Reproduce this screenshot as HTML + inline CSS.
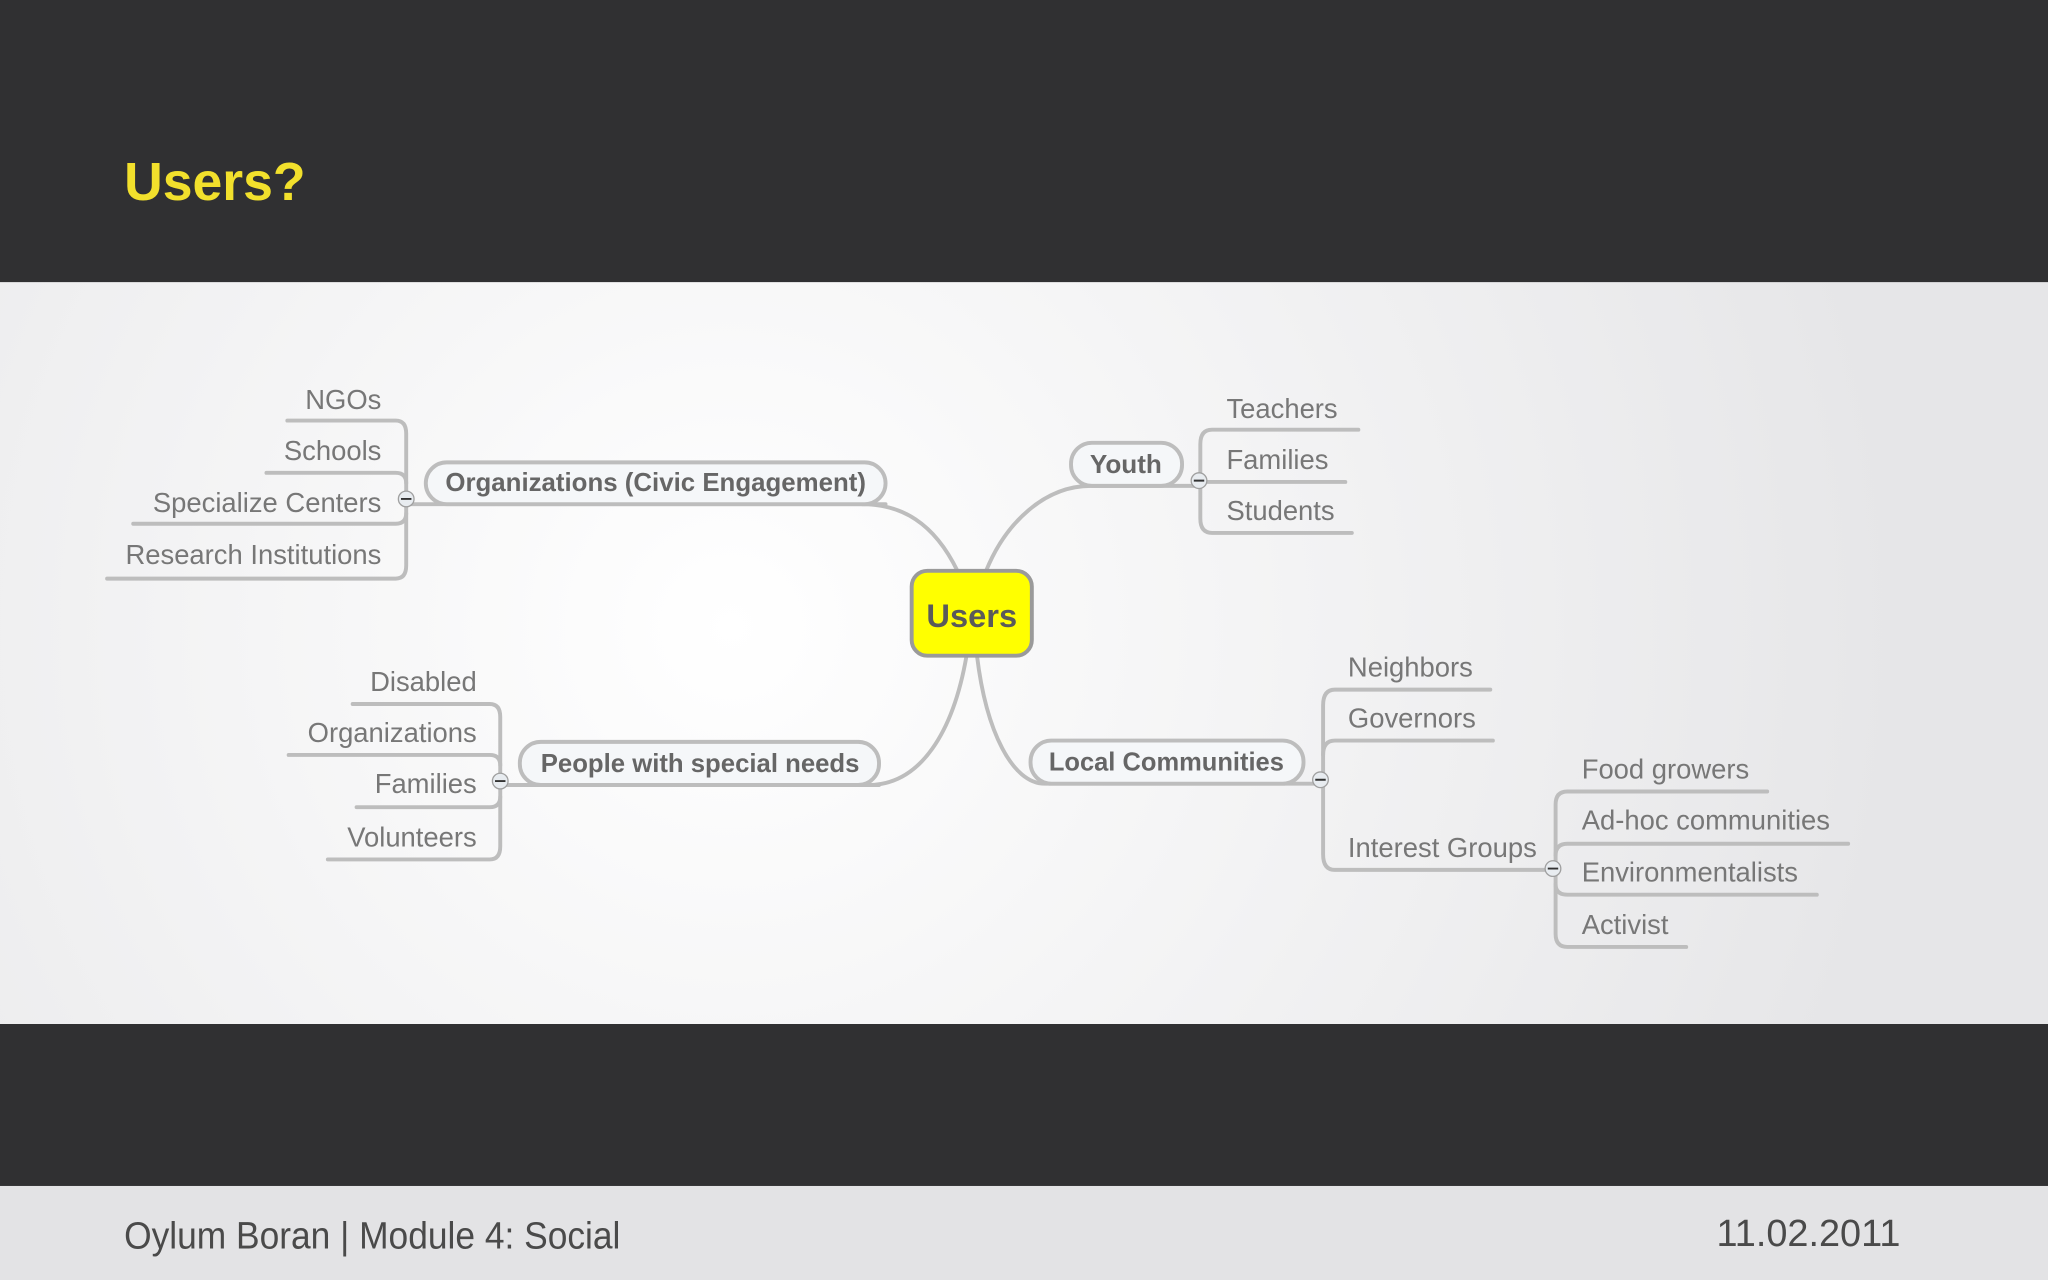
<!DOCTYPE html>
<html><head><meta charset="utf-8"><style>
html,body{margin:0;padding:0;width:2048px;height:1280px;overflow:hidden;background:#303032}
svg{display:block}
</style></head><body>
<svg width="2048" height="1280" viewBox="0 0 1568 980" xmlns="http://www.w3.org/2000/svg" font-family="Liberation Sans, sans-serif">
<defs>
<radialGradient id="bg" cx="560" cy="480" r="900" gradientUnits="userSpaceOnUse">
<stop offset="0" stop-color="#ffffff"/><stop offset="1" stop-color="#e6e6e8"/>
</radialGradient>
</defs>
<rect x="0" y="0" width="1568" height="216" fill="#303032"/>
<text x="95" y="153" font-size="41" font-weight="bold" fill="#f2e02c">Users?</text>
<rect x="0" y="216" width="1568" height="568" fill="url(#bg)"/>
<rect x="0" y="784" width="1568" height="124" fill="#303032"/>
<rect x="0" y="908" width="1568" height="72" fill="#e3e3e5"/>
<text x="95" y="956" font-size="29" fill="#4a4a4a" textLength="380" lengthAdjust="spacingAndGlyphs">Oylum Boran | Module 4: Social</text>
<text x="1455" y="954" font-size="29" fill="#4a4a4a" text-anchor="end">11.02.2011</text>

<g fill="none" stroke="#bdbdbd" stroke-width="3" stroke-linecap="round">
<path d="M733 437 C715 400 690 386 660 386"/>
<path d="M755 437 C770 400 800 372 835 372 L918 372"/>
<path d="M740 502 C730 560 705 601 665 601"/>
<path d="M748 502 C755 560 775 600 800 600 L1011 600"/>
<path d="M678 386 L311 386"/>
<path d="M673 601 L383 601"/>
<path d="M220 322 L303 322 Q311 322 311 332 L311 433 Q311 443 303 443 L82 443"/>
<path d="M204 362 L303 362 Q311 362 311 370"/>
<path d="M102 401 L303 401 Q311 401 311 393"/>
<path d="M1040 329 L928 329 Q919 329 919 340 L919 397 Q919 408 928 408 L1035 408"/>
<path d="M919 369 L1030 369"/>
<path d="M270 539 L375 539 Q383 539 383 549 L383 648 Q383 658 375 658 L251 658"/>
<path d="M221 578 L375 578 Q383 578 383 586"/>
<path d="M273 618 L375 618 Q383 618 383 610"/>
<path d="M1141 528 L1022 528 Q1013 528 1013 540 L1013 654 Q1013 666 1022 666 L1190 666"/>
<path d="M1143 567 L1022 567 Q1013 567 1013 578"/>
<path d="M1353 606 L1200 606 Q1191 606 1191 616 L1191 715 Q1191 725 1200 725 L1291 725"/>
<path d="M1415 646 L1200 646 Q1191 646 1191 655"/>
<path d="M1391 685 L1200 685 Q1191 685 1191 677"/>
</g>

<rect x="698" y="437" width="92" height="65" rx="12" fill="#ffff00" stroke="#9a9a9a" stroke-width="3"/>
<text x="744" y="480" font-size="25" font-weight="bold" fill="#5a5a5a" text-anchor="middle">Users</text>

<g fill="#f5f7f9" stroke="#bdbdbd" stroke-width="3">
<rect x="326" y="354" width="352" height="32" rx="16"/>
<rect x="820" y="339" width="85" height="33" rx="16"/>
<rect x="398" y="568" width="275" height="33" rx="16"/>
<rect x="789" y="567" width="209" height="33" rx="16"/>
</g>
<g font-size="20" font-weight="bold" fill="#666" text-anchor="middle">
<text x="502" y="376" textLength="322" lengthAdjust="spacingAndGlyphs">Organizations (Civic Engagement)</text>
<text x="862" y="362">Youth</text>
<text x="536" y="591" textLength="244" lengthAdjust="spacingAndGlyphs">People with special needs</text>
<text x="893" y="590" textLength="180" lengthAdjust="spacingAndGlyphs">Local Communities</text>
</g>

<g fill="#e8ecf0" stroke="#a0a0a0" stroke-width="1">
<circle cx="311" cy="382" r="6"/><circle cx="918" cy="368" r="6"/>
<circle cx="383" cy="598" r="6"/><circle cx="1011" cy="597" r="6"/><circle cx="1189" cy="665" r="6"/>
</g>
<g stroke="#333" stroke-width="1.5">
<path d="M307 382h8M914 368h8M379 598h8M1007 597h8M1185 665h8"/>
</g>

<g font-size="21" fill="#777">
<g text-anchor="end">
<text x="292" y="313">NGOs</text>
<text x="292" y="352">Schools</text>
<text x="292" y="392">Specialize Centers</text>
<text x="292" y="432">Research Institutions</text>
<text x="365" y="529">Disabled</text>
<text x="365" y="568">Organizations</text>
<text x="365" y="607">Families</text>
<text x="365" y="648">Volunteers</text>
</g>
<text x="939" y="320">Teachers</text>
<text x="939" y="359">Families</text>
<text x="939" y="398">Students</text>
<text x="1032" y="518">Neighbors</text>
<text x="1032" y="557">Governors</text>
<text x="1032" y="656">Interest Groups</text>
<text x="1211" y="596">Food growers</text>
<text x="1211" y="635">Ad-hoc communities</text>
<text x="1211" y="675">Environmentalists</text>
<text x="1211" y="715">Activist</text>
</g>
</svg>
</body></html>
